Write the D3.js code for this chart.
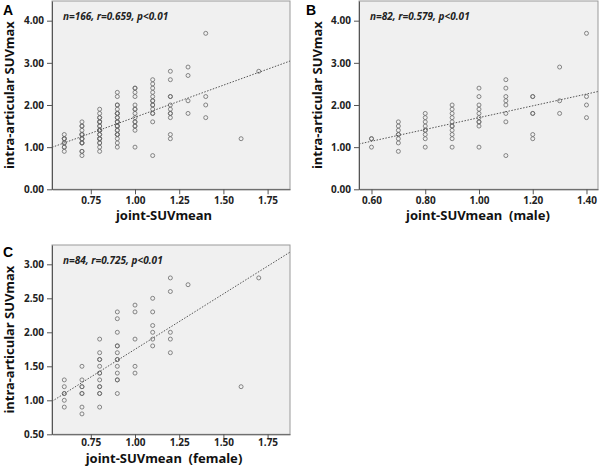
<!DOCTYPE html>
<html>
<head>
<meta charset="utf-8">
<script src="https://cdn.jsdelivr.net/npm/d3@7"></script>
<style>
  html, body { margin: 0; padding: 0; background: #fff; }
  svg { display: block; }
  text { font-family: "Noto Sans", "DejaVu Sans", sans-serif; }
</style>
</head>
<body>
<svg id="chart" width="600" height="467"></svg>
<script>
// ---- Data ----
const xLevelsMale = [0.6, 0.7, 0.8, 0.9, 1.0, 1.1, 1.2, 1.3, 1.4];
const maleYByLevel = [
  [1.2, 1.2, 1.0],
  [1.6, 1.5, 1.4, 1.3, 1.3, 1.2, 1.1, 0.9],
  [1.8, 1.7, 1.6, 1.5, 1.4, 1.4, 1.3, 1.2, 1.0],
  [2.0, 1.9, 1.8, 1.7, 1.6, 1.5, 1.5, 1.4, 1.3, 1.2, 1.0],
  [2.4, 2.2, 2.0, 1.9, 1.8, 1.7, 1.6, 1.6, 1.5, 1.0],
  [2.6, 2.4, 2.2, 2.1, 2.0, 1.8, 1.6, 0.8],
  [2.2, 2.2, 1.8, 1.8, 1.3, 1.2],
  [2.9, 2.1, 1.8],
  [3.7, 2.2, 2.0, 1.7]
];
const xLevelsFemale = [0.6, 0.7, 0.8, 0.9, 1.0, 1.1, 1.2, 1.3, 1.6, 1.7];
const femaleYByLevel = [
  [1.3, 1.2, 1.1, 1.1, 1.0, 0.9],
  [1.5, 1.3, 1.2, 1.2, 1.1, 1.1, 0.9, 0.8],
  [1.9, 1.7, 1.6, 1.6, 1.5, 1.4, 1.4, 1.3, 1.2, 1.2, 1.1, 1.1, 0.9],
  [2.3, 2.2, 2.0, 1.8, 1.8, 1.7, 1.6, 1.6, 1.5, 1.4, 1.3, 1.3, 1.1],
  [2.4, 2.3, 1.9, 1.5, 1.4],
  [2.5, 2.3, 2.1, 2.0, 1.9, 1.8],
  [2.8, 2.6, 2.0, 1.9, 1.7],
  [2.7],
  [1.2],
  [2.8]
];
const panelLetters = ["A", "B", "C"];
const statTexts = ["n=166, r=0.659, p<0.01", "n=82, r=0.579, p<0.01", "n=84, r=0.725, p<0.01"];
const xTitles = ["joint-SUVmean", "joint-SUVmean  (male)", "joint-SUVmean  (female)"];
const yTitle = "intra-articular SUVmax";
const xTicksAC = [0.75, 1.00, 1.25, 1.50, 1.75];
const xTicksB = [0.60, 0.80, 1.00, 1.20, 1.40];
const yTicksAB = [0, 1, 2, 3, 4];
const yTicksC = [0.5, 1.0, 1.5, 2.0, 2.5, 3.0];
const fitIntercept = [0.19, 0.30, 0.12];
const fitSlope = [1.52, 1.40, 1.63];

// ---- Build point sets ----
function flatten(levels, ys) {
  const out = [];
  levels.forEach((x, i) => ys[i].forEach(y => out.push({x, y})));
  return out;
}
const male = flatten(xLevelsMale, maleYByLevel);
const female = flatten(xLevelsFemale, femaleYByLevel);
const all = male.concat(female);

// ---- Layout ----
const panels = [
  {data: all, left: 52, right: 290, top: 1, bottom: 189.3,
   xdom: [0.5305, 1.8767], ydom: [0, 4.467], xticks: xTicksAC, yticks: yTicksAB,
   letterX: 3, letterY: 15, titleX: 164, titleDy: 31, tickPad: 3, tickLen: 5, yTitleX: 14},
  {data: male, left: 359, right: 598, top: 1, bottom: 189.3,
   xdom: [0.5535, 1.4428], ydom: [0, 4.467], xticks: xTicksB, yticks: yTicksAB,
   letterX: 306, letterY: 15, titleX: 478, titleDy: 31, tickPad: 3, tickLen: 5, yTitleX: 322},
  {data: female, left: 52, right: 290, top: 245, bottom: 434.3,
   xdom: [0.5305, 1.8767], ydom: [0.5, 3.284], xticks: xTicksAC, yticks: yTicksC,
   letterX: 3, letterY: 257, titleX: 164, titleDy: 28.7, tickPad: 1, tickLen: 4, yTitleX: 14}
];

const svg = d3.select("#chart");

panels.forEach((p, i) => {
  const x = d3.scaleLinear().domain(p.xdom).range([p.left, p.right]);
  const y = d3.scaleLinear().domain(p.ydom).range([p.bottom, p.top]);
  const g = svg.append("g");

  g.append("rect")
    .attr("x", p.left).attr("y", p.top)
    .attr("width", p.right - p.left).attr("height", p.bottom - p.top)
    .attr("fill", "#f0f0f0").attr("stroke", "#9a9a9a").attr("stroke-width", 1);

  // axes
  const xAxis = d3.axisBottom(x).tickValues(p.xticks).tickFormat(d3.format(".2f"))
    .tickSizeOuter(0).tickSizeInner(p.tickLen).tickPadding(p.tickPad);
  const yAxis = d3.axisLeft(y).tickValues(p.yticks).tickFormat(d3.format(".2f"))
    .tickSizeOuter(0).tickSizeInner(5).tickPadding(3);

  const gx = g.append("g").attr("transform", `translate(0,${p.bottom})`).call(xAxis);
  const gy = g.append("g").attr("transform", `translate(${p.left},0)`).call(yAxis);
  [gx, gy].forEach(a => {
    a.select(".domain").attr("stroke", "#555");
    a.selectAll(".tick line").attr("stroke", "#555");
    a.selectAll(".tick text").attr("fill", "#222")
      .style("font-size", "10px").style("font-weight", "bold");
  });

  // points
  g.append("g").selectAll("circle").data(p.data).join("circle")
    .attr("cx", d => x(d.x)).attr("cy", d => y(d.y)).attr("r", 2)
    .attr("fill", "none").attr("stroke", "#6a6a6a").attr("stroke-width", 0.8);

  // regression line
  const fx = p.xdom;
  const fit = v => fitIntercept[i] + fitSlope[i] * v;
  let x0 = fx[0], x1 = fx[1];
  if (fit(x1) > p.ydom[1]) x1 = (p.ydom[1] - fitIntercept[i]) / fitSlope[i];
  if (fit(x0) < p.ydom[0]) x0 = (p.ydom[0] - fitIntercept[i]) / fitSlope[i];
  g.append("line")
    .attr("x1", x(x0)).attr("y1", y(fit(x0)))
    .attr("x2", x(x1)).attr("y2", y(fit(x1)))
    .attr("stroke", "#555").attr("stroke-width", 1)
    .attr("stroke-dasharray", "1.5,1.5");

  // stats text
  g.append("text")
    .attr("x", x.range()[0] + 11).attr("y", p.top + 19)
    .style("font-size", "10px").style("font-weight", "bold").style("font-style", "italic")
    .attr("fill", "#222").text(statTexts[i]);

  // titles
  g.append("text")
    .attr("x", p.titleX).attr("y", p.bottom + p.titleDy)
    .attr("text-anchor", "middle")
    .style("white-space", "pre")
    .style("font-size", "13px").style("font-weight", "bold").attr("fill", "#111")
    .text(xTitles[i]);
  g.append("text")
    .attr("transform", `translate(${p.yTitleX},${(p.top + p.bottom) / 2}) rotate(-90)`)
    .attr("text-anchor", "middle")
    .style("font-size", "13px").style("font-weight", "bold").attr("fill", "#111")
    .text(yTitle);

  // panel letter
  g.append("text")
    .attr("x", p.letterX).attr("y", p.letterY)
    .style("font-size", "14px").style("font-weight", "bold").attr("fill", "#000")
    .style("font-family", "Arial, 'Liberation Sans', sans-serif")
    .text(panelLetters[i]);
});
</script>
</body>
</html>
